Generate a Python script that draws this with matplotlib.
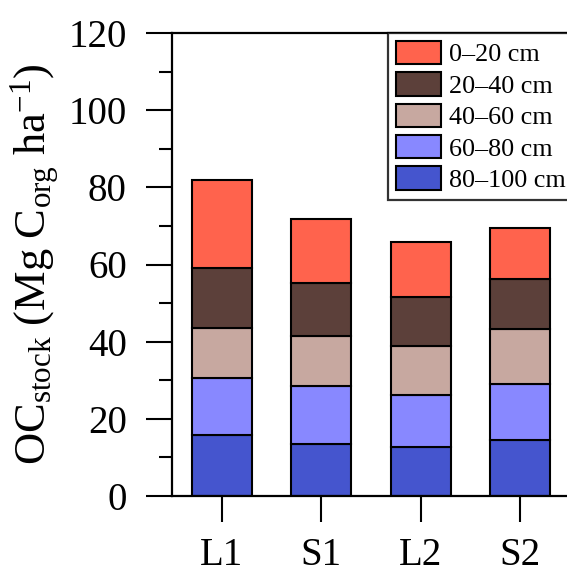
import matplotlib
matplotlib.use("Agg")
import matplotlib.pyplot as plt
import numpy as np
from matplotlib.ticker import MultipleLocator

plt.rcParams['font.family'] = ['Liberation Serif', 'DejaVu Serif']
plt.rcParams['mathtext.fontset'] = 'custom'
plt.rcParams['mathtext.rm'] = 'Liberation Serif'
plt.rcParams['mathtext.it'] = 'Liberation Serif:italic'
plt.rcParams['mathtext.bf'] = 'Liberation Serif:bold'

sites = ['L1', 'S1', 'L2', 'S2']
depths = ['0–20 cm', '20–40 cm', '40–60 cm', '60–80 cm', '80–100 cm']
# values per depth layer (Mg C ha-1)
d0_20 = [22.9, 16.4, 14.2, 13.3]
d20_40 = [15.4, 13.8, 12.6, 12.9]
d40_60 = [12.9, 13.1, 12.9, 14.2]
d60_80 = [14.9, 14.9, 13.3, 14.6]
d80_100 = [15.8, 13.5, 12.8, 14.5]
colors = ['#FF634D', '#5C403A', '#C7A8A0', '#8888FF', '#4555CE']

fig = plt.figure(figsize=(5.67, 5.74), dpi=100)
ax = fig.add_axes([172/567, 1-496/574, 400/567, (496-33)/574])

x = np.arange(len(sites))
layers = [d80_100, d60_80, d40_60, d20_40, d0_20]
layer_names = depths[::-1]
layer_colors = colors[::-1]
bottom = np.zeros(len(sites))
handles = {}
for vals, name, col in zip(layers, layer_names, layer_colors):
    b = ax.bar(x, vals, width=0.6, bottom=bottom, color=col,
               edgecolor='black', linewidth=1.5, label=name, zorder=2)
    handles[name] = b
    bottom += np.array(vals)

ax.set_xlim(-0.5, 3.52)
ax.set_ylim(0, 120)
ax.set_xticks(x)
ax.set_xticklabels(sites)
ax.yaxis.set_major_locator(MultipleLocator(20))
ax.yaxis.set_minor_locator(MultipleLocator(10))
ax.tick_params(axis='both', which='major', direction='out', length=18.5,
               width=1.5, labelsize=28, pad=14)
ax.tick_params(axis='x', which='major', pad=11)
ax.tick_params(axis='y', which='minor', direction='out', length=9.5, width=1.5)
for s in ax.spines.values():
    s.set_linewidth(1.6)

ax.set_ylabel(r'$\mathrm{OC_{stock}\ (Mg\ C_{org}\ ha^{-1})}$', fontsize=32, labelpad=5)

leg = ax.legend([handles[n] for n in depths], depths, loc='upper left',
                bbox_to_anchor=(388/567, 1-33/574),
                bbox_transform=fig.transFigure, borderaxespad=0, fontsize=18.8,
                frameon=True, fancybox=False, edgecolor='black',
                handlelength=1.72, handleheight=1.0, labelspacing=0.22,
                handletextpad=0.3, borderpad=0.3)
leg.get_frame().set_linewidth(1.6)

fig.savefig('out.png', dpi=100)
